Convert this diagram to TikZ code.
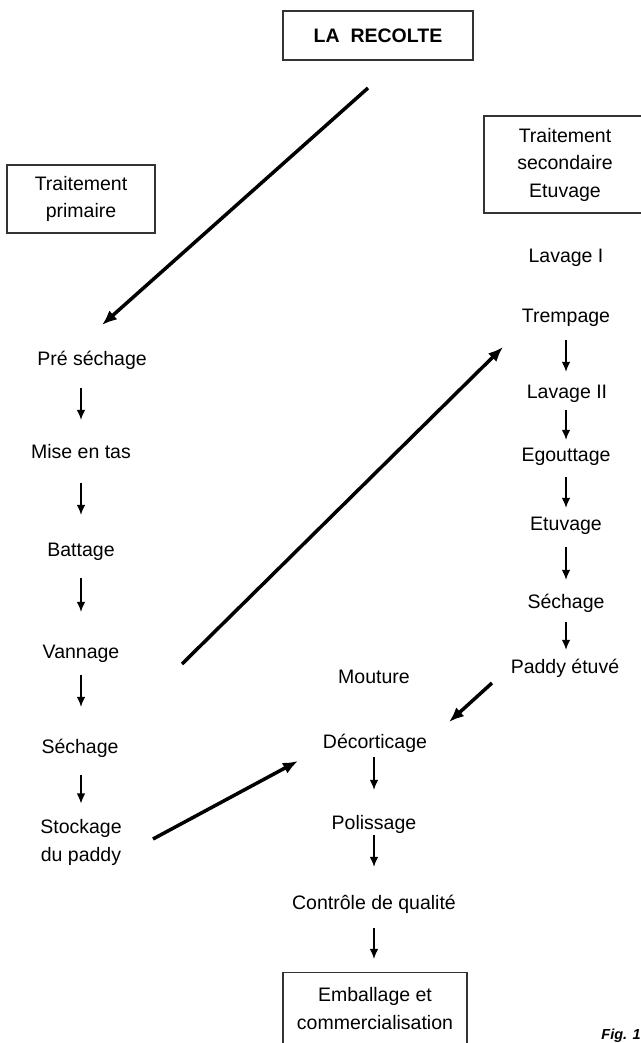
\documentclass[tikz,border=0pt]{standalone}
\usepackage{fontspec}
\setmainfont{Liberation Sans}
\usetikzlibrary{arrows.meta}

\tikzset{
  stage/.style={inner sep=0pt, text height=14pt, text depth=4pt},
  stagebox/.style={draw=black!80, line width=1.2pt, inner sep=0pt, align=center},
  flow/.style={-{Latex[length=10pt,width=8.5pt]}, line width=1.2pt},
  bigflow/.style={-{Latex[length=15pt,width=12pt]}, line width=3.5pt},
}

\begin{document}
\begin{tikzpicture}[x=1pt,y=-1pt, font=\fontsize{19.5}{27.5}\selectfont]
\useasboundingbox (0,0) rectangle (640,1043);

% boxes
\node[stagebox, minimum width=190pt, minimum height=49pt](recolte) at (378,35.5) {\textbf{LA\ \ RECOLTE}};
\node[stagebox, minimum width=148pt, minimum height=68pt](primaire) at (81,199) {Traitement\\primaire};
\node[stagebox, minimum width=162pt, minimum height=97pt](secondaire) at (565,164.5) {Traitement\\secondaire\\Etuvage};
\node[stagebox, minimum width=184pt, minimum height=72pt](emball) at (375,1008.5) {Emballage et\\commercialisation};

% traitement primaire
\node[stage](presech) at (92,360) {Pré séchage};
\node[stage](misetas) at (81,453) {Mise en tas};
\node[stage](battage) at (81,551) {Battage};
\node[stage](vannage) at (81,653) {Vannage};
\node[stage](sechA) at (80,748) {Séchage};
\node[inner sep=0pt, align=center](stockage) at (81,842.5) {Stockage\\du paddy};

% etuvage
\node[stage](lavI) at (566,257) {Lavage I};
\node[stage](tremp) at (566,317) {Trempage};
\node[stage](lavII) at (567,393) {Lavage II};
\node[stage](egout) at (566,456) {Egouttage};
\node[stage](etuv) at (566,525) {Etuvage};
\node[stage](sechB) at (566,603) {Séchage};
\node[stage](paddy) at (565,668) {Paddy étuvé};

% mouture
\node[stage](mouture) at (374,678) {Mouture};
\node[stage](decort) at (375,743) {Décorticage};
\node[stage](poliss) at (374,824) {Polissage};
\node[stage](controle) at (374,904) {Contrôle de qualité};

\node[inner sep=0pt, font=\fontsize{14.5}{17}\selectfont\bfseries\itshape](fig) at (621,1036) {Fig. 1};

\draw[flow, shorten <=19pt, shorten >=24pt] (presech.south -| misetas.north) -- (misetas.north);
\draw[flow, shorten <=21pt, shorten >=27pt] (misetas) -- (battage);
\draw[flow, shorten <=18pt, shorten >=32pt] (battage) -- (vannage);
\draw[flow, shorten <=13pt, shorten >=32pt] (vannage.south) -- (vannage.south |- sechA.north);
\draw[flow, shorten <=18pt, shorten >=16pt] (sechA.south -| stockage.north) -- (stockage.north);

\draw[flow, shorten <=14pt, shorten >=12pt] (tremp.south) -- (tremp.south |- lavII.north);
\draw[flow, shorten <=8pt, shorten >=7pt] (lavII.south -| egout.north) -- (egout.north);
\draw[flow, shorten <=12pt, shorten >=8pt] (egout) -- (etuv);
\draw[flow, shorten <=13pt, shorten >=14pt] (etuv) -- (sechB);
\draw[flow, shorten <=10pt, shorten >=9pt] (sechB.south) -- (sechB.south |- paddy.north);

\draw[flow, shorten <=5pt, shorten >=25pt] (decort.south -| poliss.north) -- (poliss.north);
\draw[flow, shorten <=2pt, shorten >=28pt] (poliss) -- (controle);
\draw[flow, shorten <=15pt, shorten >=13pt] (controle.south) -- (controle.south |- emball.north);

% big arrows
\coordinate (recolte-out) at (368,88);
\coordinate (presech-in) at (102,325);
\coordinate (vannage-out) at (182,664);
\coordinate (tremp-in) at (503,347);
\coordinate (paddy-out) at (492,683);
\coordinate (decort-in) at (449,722);
\coordinate (stockage-out) at (153,839);
\coordinate (decort-in2) at (298,761);
\draw[bigflow] (recolte-out) -- (presech-in);
\draw[bigflow] (vannage-out) -- (tremp-in);
\draw[bigflow] (paddy-out) -- (decort-in);
\draw[bigflow] (stockage-out) -- (decort-in2);
\end{tikzpicture}
\end{document}
